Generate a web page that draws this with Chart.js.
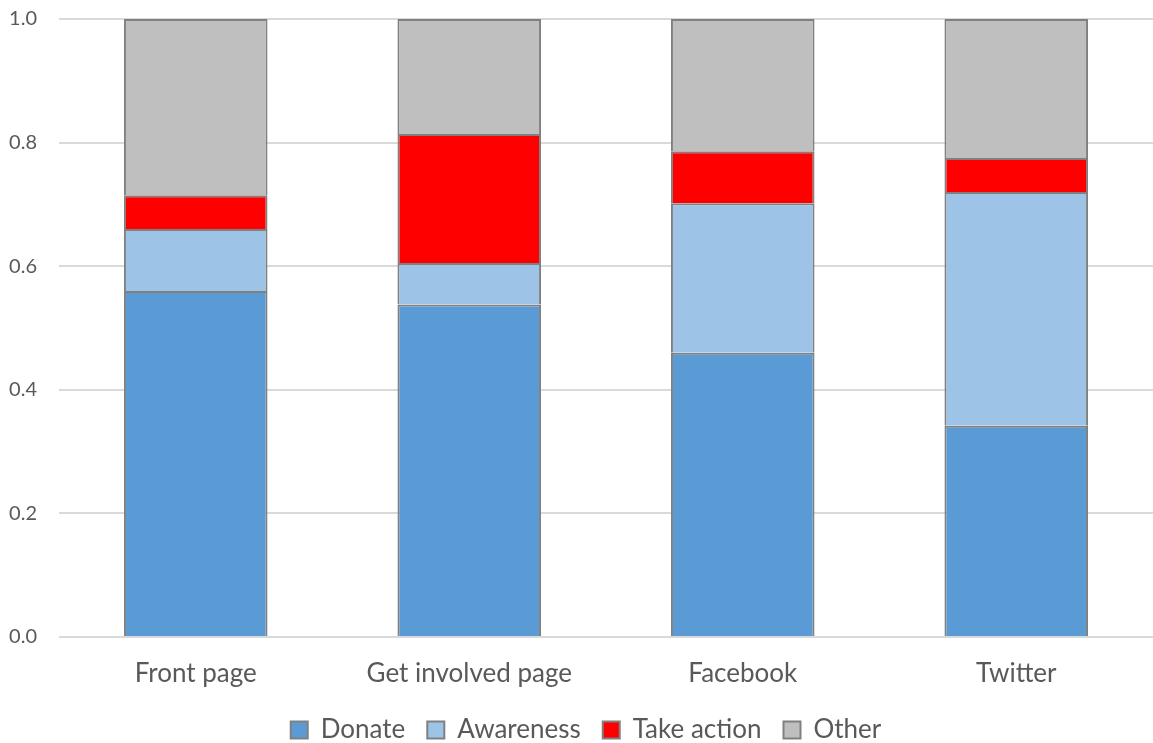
<!DOCTYPE html>
<html>
<head>
<meta charset="utf-8">
<script src="https://cdn.jsdelivr.net/npm/chart.js@4"></script>
<style>
html, body { margin: 0; padding: 0; background: #fff; }
#wrap { width: 1153px; height: 743px; }
</style>
</head>
<body>
<div id="wrap"><canvas id="myChart"></canvas></div>
<script>
var categories = ['Front page', 'Get involved page', 'Facebook', 'Twitter'];
var donate = [0.56, 0.538, 0.46, 0.342];
var awareness = [0.10, 0.067, 0.242, 0.378];
var takeAction = [0.055, 0.209, 0.084, 0.055];
var other = [0.285, 0.186, 0.214, 0.225];
var yTicks = [0, 0.2, 0.4, 0.6, 0.8, 1.0];

var chartArea = document.getElementById('myChart').getContext('2d');
var myChart = new Chart(chartArea, {
	type: 'bar',
	data: {
		labels: categories,
		datasets: [{
			label: 'Donate',
			data: donate,
			backgroundColor: '#5B9BD5',
			borderColor: '#808080',
			borderWidth: 2
		},
		{
			label: 'Awareness',
			data: awareness,
			backgroundColor: '#9DC3E6',
			borderColor: '#808080',
			borderWidth: 2
		},
		{
			label: 'Take action',
			data: takeAction,
			backgroundColor: '#FF0000',
			borderColor: '#808080',
			borderWidth: 2
		},
		{
			label: 'Other',
			data: other,
			backgroundColor: '#BFBFBF',
			borderColor: '#808080',
			borderWidth: 2
		}]
	},
	options: {
		responsive: true,
		maintainAspectRatio: false,
		animation: false,
		// the original is cropped on the right, and the legend's empty lower padding goes off the canvas
		layout: { padding: { left: 8, right: -11, top: 0, bottom: -10 } },
		datasets: { bar: { categoryPercentage: 1, barPercentage: 0.525 } },
		plugins: {
			legend: {
				position: 'bottom',
				labels: {
					font: { family: 'Lato', size: 26 },
					color: '#595959',
					boxWidth: 17,
					boxHeight: 17,
					padding: 22
				}
			},
			tooltip: { enabled: false }
		},
		scales: {
			x: {
				stacked: true,
				grid: { display: false },
				border: { display: false },
				afterFit: function(axis) {
					axis.height = 58;
					axis.paddingRight = -11;
				},
				ticks: { font: { family: 'Lato', size: 26 }, color: '#595959', padding: 13 }
			},
			y: {
				stacked: true,
				min: 0,
				max: 1,
				afterBuildTicks: function(axis) {
					axis.ticks = yTicks.map(function(v) { return { value: v }; });
				},
				// tick padding would otherwise also be added above the top gridline
				afterFit: function(axis) {
					axis.paddingTop = 19;
					axis.paddingBottom = 12;
					axis.paddingRight = -11;
					axis.width = 51;
				},
				grid: { color: '#D9D9D9', lineWidth: 2, drawTicks: false },
				border: { display: false },
				ticks: {
					font: { family: 'Lato', size: 20 },
					color: '#595959',
					padding: 22,
					callback: function(v) { return v.toFixed(1); }
				}
			}
		}
	}
});
</script>
</body>
</html>
